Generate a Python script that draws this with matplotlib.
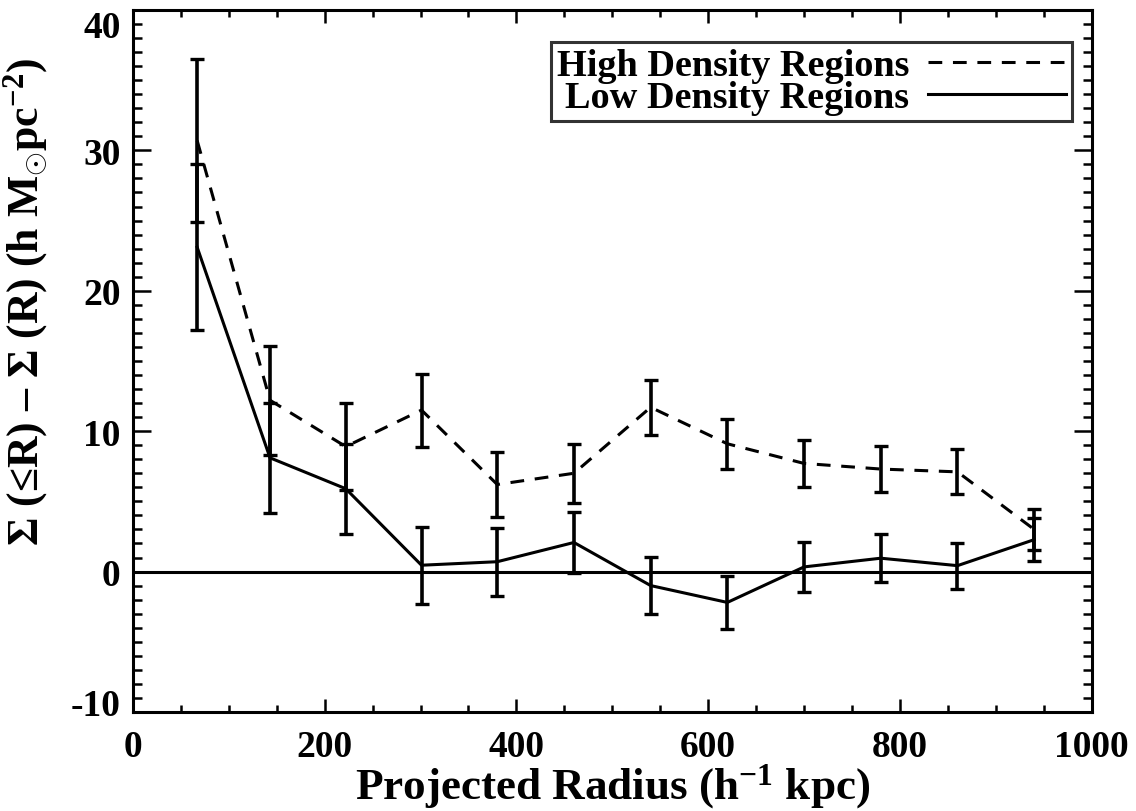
import matplotlib
matplotlib.use('Agg')
import matplotlib.pyplot as plt
import matplotlib.transforms as mtransforms
from matplotlib.lines import Line2D
import numpy as np

plt.rcParams['font.family'] = ['Liberation Serif', 'DejaVu Serif']
plt.rcParams['font.weight'] = 'bold'
plt.rcParams['axes.labelweight'] = 'bold'
plt.rcParams['mathtext.fontset'] = 'custom'
plt.rcParams['mathtext.rm'] = 'Liberation Serif:bold'
plt.rcParams['mathtext.it'] = 'Liberation Serif:bold'
plt.rcParams['mathtext.bf'] = 'Liberation Serif:bold'
plt.rcParams['axes.unicode_minus'] = False

# данные
radius = [67, 143, 222, 301, 380, 460, 540, 620, 700, 780, 860, 940]
high_sigma = [30.7, 12.2, 8.9, 11.5, 6.2, 7.0, 11.7, 9.1, 7.7, 7.3, 7.1, 3.0]
high_err = [5.8, 3.9, 3.1, 2.6, 2.35, 2.1, 1.95, 1.8, 1.7, 1.65, 1.6, 1.48]
low_sigma = [23.1, 8.1, 5.9, 0.45, 0.7, 2.07, -1.0, -2.2, 0.33, 0.95, 0.42, 2.27]
low_err = [5.9, 3.9, 3.2, 2.75, 2.43, 2.2, 2.03, 1.9, 1.78, 1.7, 1.63, 1.53]

fig = plt.figure(figsize=(11.36, 8.12), dpi=100)
ax = fig.add_axes([0.117, 0.122, 0.844, 0.8645])

lw = 2.2
ax.axhline(0, color='black', lw=lw)
ax.errorbar(radius, high_sigma, yerr=high_err, color='black', lw=lw,
            dashes=(4.5, 3.5), capsize=5, capthick=2.4, elinewidth=2.6)
ax.errorbar(radius, low_sigma, yerr=low_err, color='black', lw=lw,
            capsize=5, capthick=2.4, elinewidth=2.6)

ax.set_xlim(0, 1000)
ax.set_ylim(-10, 40)
ax.set_xticks(np.arange(0, 1001, 200))
ax.set_xticks(np.arange(0, 1001, 50), minor=True)
ax.set_yticks(np.arange(-10, 41, 10))
ax.set_yticks(np.arange(-10, 41, 1), minor=True)
for s in ax.spines.values():
    s.set_linewidth(2.2)

ax.tick_params(axis='both', which='both', direction='in', top=True, right=True,
               labelsize=27, width=1.8)
ax.tick_params(axis='x', which='major', length=9.5, pad=12)
ax.tick_params(axis='x', which='minor', length=5)
ax.tick_params(axis='y', which='major', length=13, pad=9)
ax.tick_params(axis='y', which='minor', length=6.5)

# крайние подписи по y сдвинуты внутрь, как в IDL
ylabs = ax.get_yticklabels()
ylabs[-1].set_transform(ylabs[-1].get_transform()
                        + mtransforms.ScaledTranslation(0, -0.14, fig.dpi_scale_trans))
ylabs[0].set_transform(ylabs[0].get_transform()
                       + mtransforms.ScaledTranslation(0, 0.1, fig.dpi_scale_trans))

ax.set_xlabel('Projected Radius (h$^{-1}$ kpc)', fontsize=32.5, labelpad=-1.5)
ax.set_ylabel('Σ (≤R) – Σ (R) (h M$_{\\odot}$pc$^{-2}$)', fontsize=31.5)
ax.yaxis.set_label_coords(-0.086, 0.585)

handles = [Line2D([], [], color='black', lw=lw, dashes=(4.5, 3.5)),
           Line2D([], [], color='black', lw=lw)]
leg = ax.legend(handles, ['High Density Regions', 'Low Density Regions'],
                loc='upper right', fontsize=27.5, frameon=True, fancybox=False,
                edgecolor='black', markerfirst=False, handlelength=3.6,
                handletextpad=0.5, borderpad=0.15, borderaxespad=0,
                labelspacing=-0.08, bbox_to_anchor=(0.979, 0.954))
leg.get_frame().set_linewidth(2.2)
for t in leg.get_texts():
    t.set_ha('right')

fig.savefig('out.png', dpi=100)
